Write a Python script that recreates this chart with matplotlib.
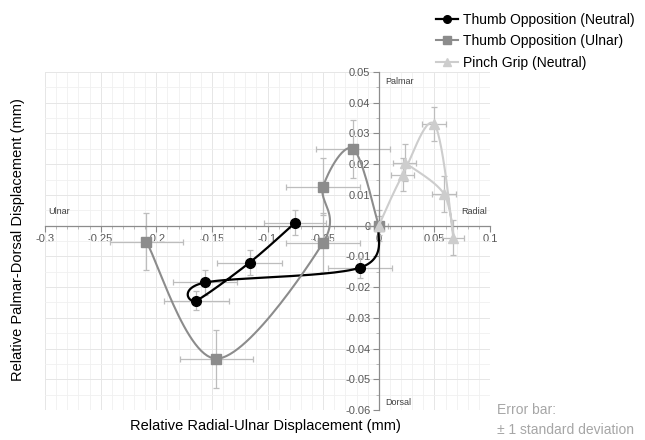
import numpy as np
import matplotlib
matplotlib.use("Agg")
import matplotlib.pyplot as plt
from matplotlib.ticker import MultipleLocator, FuncFormatter

plt.rcParams['font.family'] = ['Liberation Sans', 'DejaVu Sans']

# Thumb Opposition (Neutral)
neutral_x = [0.0, -0.017, -0.156, -0.164, -0.116, -0.075]
neutral_y = [0.0, -0.0137, -0.0185, -0.0244, -0.012, 0.001]
neutral_xerr = [0.0, 0.029, 0.029, 0.029, 0.029, 0.028]
neutral_yerr = [0.0, 0.0033, 0.004, 0.0032, 0.004, 0.004]

# Thumb Opposition (Ulnar)
ulnar_x = [0.0, -0.023, -0.050, -0.050, -0.146, -0.209]
ulnar_y = [0.0, 0.025, 0.0127, -0.0055, -0.0433, -0.0052]
ulnar_xerr = [0.008, 0.033, 0.033, 0.033, 0.033, 0.033]
ulnar_yerr = [0.005, 0.0094, 0.0093, 0.0095, 0.0094, 0.0094]

# Pinch Grip (Neutral)
pinch_x = [0.0, 0.0216, 0.050, 0.067, 0.0585, 0.0234]
pinch_y = [0.0, 0.0166, 0.033, -0.004, 0.0104, 0.0205]
pinch_xerr = [0.004, 0.0103, 0.0108, 0.0098, 0.011, 0.0105]
pinch_yerr = [0.003, 0.0053, 0.0056, 0.0057, 0.0058, 0.006]

x_ticks = [-0.3, -0.25, -0.2, -0.15, -0.1, -0.05, 0, 0.05, 0.1]
y_ticks = [-0.06, -0.05, -0.04, -0.03, -0.02, -0.01, 0, 0.01, 0.02, 0.03, 0.04, 0.05]


def smooth(xs, ys, sx, sy, n=30):
    # Excel style smoothed line (uniform Catmull-Rom), done in screen-like units
    p = np.column_stack([np.array(xs) * sx, np.array(ys) * sy])
    p = np.vstack([p[0], p, p[-1]])
    out = []
    for i in range(1, len(p) - 2):
        p0, p1, p2, p3 = p[i - 1], p[i], p[i + 1], p[i + 2]
        c1 = p1 + (p2 - p0) / 6
        c2 = p2 - (p3 - p1) / 6
        t = np.linspace(0, 1, n)[:, None]
        seg = ((1 - t) ** 3) * p1 + 3 * ((1 - t) ** 2) * t * c1 + 3 * (1 - t) * t ** 2 * c2 + t ** 3 * p2
        out.append(seg)
    out = np.vstack(out)
    return out[:, 0] / sx, out[:, 1] / sy


fig = plt.figure(figsize=(6.45, 4.4), dpi=100)
ax = fig.add_axes([45 / 645, 1 - 410 / 440, 445 / 645, 338 / 440])
xmin, xmax, ymin, ymax = -0.3, 0.1, -0.06, 0.05
ax.set_xlim(xmin, xmax)
ax.set_ylim(ymin, ymax)
sx = 445 / (xmax - xmin)
sy = 338 / (ymax - ymin)

err_col = '#bdbdbd'
series = [
    (neutral_x, neutral_y, neutral_xerr, neutral_yerr, 'black', 'o', 7, 1.6, 'Thumb Opposition (Neutral)', 3),
    (ulnar_x, ulnar_y, ulnar_xerr, ulnar_yerr, '#8c8c8c', 's', 6.5, 1.5, 'Thumb Opposition (Ulnar)', 4),
    (pinch_x, pinch_y, pinch_xerr, pinch_yerr, '#cdcdcd', '^', 7.5, 1.5, 'Pinch Grip (Neutral)', 5),
]
handles = []
for xs, ys, xe, ye, col, mk, ms, lw, lab, z in series:
    ax.errorbar(xs, ys, xerr=xe, yerr=ye, fmt='none', ecolor=err_col, elinewidth=0.9,
                capsize=2.5, capthick=0.9, zorder=2)
    cx, cy = smooth(xs, ys, sx, sy)
    ax.plot(cx, cy, color=col, lw=lw, zorder=z)
    ax.plot(xs, ys, linestyle='none', marker=mk, ms=ms, color=col, zorder=z)
    h, = ax.plot([], [], color=col, lw=lw, marker=mk, ms=5.5, label=lab)
    handles.append(h)

# axes crossing at origin
for s in ['top', 'right']:
    ax.spines[s].set_visible(False)
ax.spines['left'].set_position(('data', 0))
ax.spines['bottom'].set_position(('data', 0))
for s in ['left', 'bottom']:
    ax.spines[s].set_color('#8c8c8c')
    ax.spines[s].set_linewidth(0.9)

ax.set_xticks(x_ticks)
ax.set_yticks(y_ticks)
fmt = FuncFormatter(lambda v, p: '0' if abs(v) < 1e-9 else ('%g' % round(v, 3)))
ax.xaxis.set_major_formatter(fmt)
ax.yaxis.set_major_formatter(fmt)
ax.xaxis.set_minor_locator(MultipleLocator(0.01))
ax.yaxis.set_minor_locator(MultipleLocator(0.005))
ax.tick_params(which='major', length=4, color='#8c8c8c', labelsize=8, labelcolor='#595959', pad=2)
ax.tick_params(which='minor', length=2, color='#b0b0b0')
ax.grid(which='major', color='#e6e6e6', lw=0.7, zorder=0)
ax.grid(which='minor', color='#f0f0f0', lw=0.6, zorder=0)
ax.set_axisbelow(True)

lab_kw = dict(fontsize=6.5, color='#404040')
ax.text(0.006, 0.047, 'Palmar', ha='left', va='center', **lab_kw)
ax.text(0.074, 0.0045, 'Radial', ha='left', va='center', **lab_kw)
ax.text(-0.297, 0.0045, 'Ulnar', ha='left', va='center', **lab_kw)
ax.text(0.006, -0.0575, 'Dorsal', ha='left', va='center', **lab_kw)

fig.text(265 / 645, 1 - 426 / 440, 'Relative Radial-Ulnar Displacement (mm)', ha='center', va='center',
         fontsize=10.5, color='black')
fig.text(18 / 645, 1 - 240 / 440, 'Relative Palmar-Dorsal Displacement (mm)', ha='center', va='center',
         rotation=90, fontsize=10.5, color='black')
fig.text(497 / 645, 1 - 420 / 440, 'Error bar:\n\u00b1 1 standard deviation', ha='left', va='center',
         fontsize=10, color='#a6a6a6', linespacing=1.5)

fig.legend(handles=handles, loc='upper left', bbox_to_anchor=(423 / 645, 1 - 0 / 440), frameon=False,
           fontsize=10, handlelength=1.6, handletextpad=0.4, labelspacing=0.55)

fig.savefig('out.png', dpi=100)
